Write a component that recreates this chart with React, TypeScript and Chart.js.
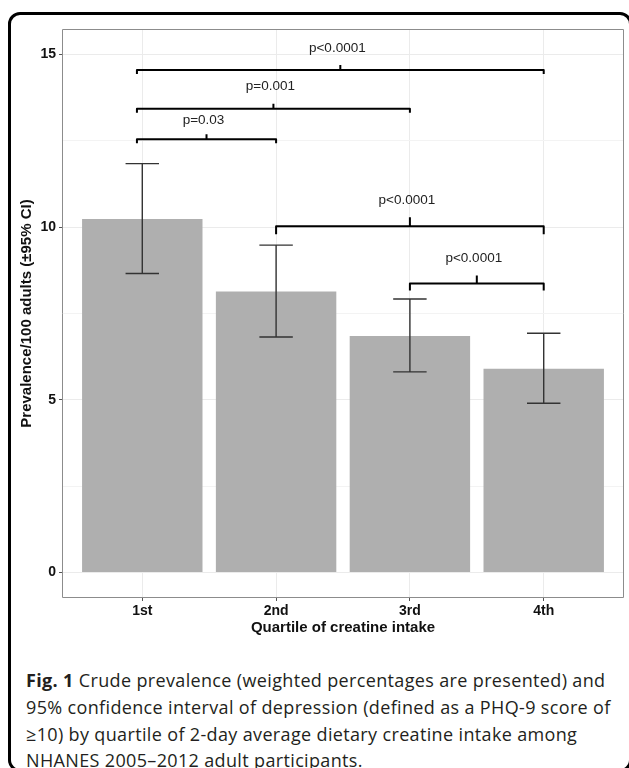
import React, { useEffect, useRef } from 'react';
import { Chart, registerables } from 'chart.js';

Chart.register(...registerables);

// ---- data ----
const categories = ['1st', '2nd', '3rd', '4th'];
const prevalence = [10.24, 8.14, 6.85, 5.9];
const ciLower = [8.66, 6.82, 5.81, 4.9];
const ciUpper = [11.84, 9.48, 7.92, 6.93];
const yTickValues = [0, 5, 10, 15];

const bracketLabels = ['p<0.0001', 'p=0.001', 'p=0.03', 'p<0.0001', 'p<0.0001'];
const bracketFrom = [-0.04, -0.04, -0.04, 1, 2];
const bracketTo = [3, 2, 1, 3, 3];
const bracketLevel = [14.55, 13.43, 12.55, 10.03, 8.37];
const labelLevel = [15.17, 14.09, 13.1, 10.79, 9.11];

const yTitle = 'Prevalence/100 adults (±95% CI)';
const xTitle = 'Quartile of creatine intake';

const captionLines = [
  'Crude prevalence (weighted percentages are presented) and',
  '95% confidence interval of depression (defined as a PHQ-9 score of',
  '≥10) by quartile of 2-day average dietary creatine intake among',
  'NHANES 2005–2012 adult participants.',
];

// ---- styles ----
const tipDown = [4, 4, 4, 8, 7];
const tickUp = [5, 5, 5, 9, 8];
const FONT = '"Liberation Sans", Arial, Helvetica, sans-serif';

const overlayPlugin = {
  id: 'overlay',
  afterDatasetsDraw(chart: any) {
    const { ctx, scales } = chart;
    const x = scales.x;
    const y = scales.y;
    ctx.save();
    // error bars
    ctx.strokeStyle = '#333333';
    ctx.lineWidth = 1.4;
    for (let i = 0; i < prevalence.length; i++) {
      const px = x.getPixelForValue(i);
      const half = x.getPixelForValue(i + 0.125) - px;
      const yt = y.getPixelForValue(ciUpper[i]);
      const yb = y.getPixelForValue(ciLower[i]);
      ctx.beginPath();
      ctx.moveTo(px, yt);
      ctx.lineTo(px, yb);
      ctx.moveTo(px - half, yt);
      ctx.lineTo(px + half, yt);
      ctx.moveTo(px - half, yb);
      ctx.lineTo(px + half, yb);
      ctx.stroke();
    }
    // brackets
    ctx.strokeStyle = '#000000';
    ctx.lineWidth = 2;
    ctx.lineJoin = 'round';
    for (let b = 0; b < bracketLabels.length; b++) {
      const x1 = x.getPixelForValue(bracketFrom[b]);
      const x2 = x.getPixelForValue(bracketTo[b]);
      const yb = y.getPixelForValue(bracketLevel[b]);
      const mid = (x1 + x2) / 2;
      ctx.beginPath();
      ctx.moveTo(x1, yb + tipDown[b]);
      ctx.lineTo(x1, yb);
      ctx.lineTo(x2, yb);
      ctx.lineTo(x2, yb + tipDown[b]);
      ctx.moveTo(mid, yb);
      ctx.lineTo(mid, yb - tickUp[b]);
      ctx.stroke();
      ctx.font = '13.5px ' + FONT;
      ctx.fillStyle = '#222222';
      ctx.textAlign = 'center';
      ctx.textBaseline = 'middle';
      ctx.fillText(bracketLabels[b], mid - 3, y.getPixelForValue(labelLevel[b]));
    }
    // panel border
    const { left, top, right, bottom } = chart.chartArea;
    ctx.strokeStyle = '#8c8c8c';
    ctx.lineWidth = 1;
    ctx.strokeRect(left + 0.5, top + 0.5, right - left - 1, bottom - top - 1);
    ctx.restore();
  },
};

function PrevalenceChart() {
  const ref = useRef<HTMLCanvasElement>(null);
  useEffect(() => {
    if (!ref.current) return;
    const chart = new Chart(ref.current, {
      type: 'bar',
      data: {
        datasets: [
          {
            data: prevalence.map((v, i) => ({ x: i, y: v })),
            backgroundColor: '#afafaf',
            borderWidth: 0,
            barPercentage: 0.9,
            categoryPercentage: 1,
          },
        ],
      },
      options: {
        responsive: false,
        animation: false,
        devicePixelRatio: 1,
        layout: { padding: { left: 18, top: 29, right: 5, bottom: 8 } },
        plugins: { legend: { display: false }, tooltip: { enabled: false } },
        scales: {
          x: {
            type: 'linear',
            min: -0.6,
            max: 3.6,
            offset: false,
            afterFit: (s: any) => {
              s.height = 39;
            },
            afterBuildTicks: (s: any) => {
              s.ticks = categories.map((_, i) => ({ value: i }));
            },
            ticks: {
              callback: (v: any) => categories[Math.round(Number(v))] ?? '',
              font: { family: FONT, size: 14, weight: 'bold' },
              color: '#111111',
              padding: 2,
              maxRotation: 0,
              autoSkip: false,
            },
            grid: {
              color: '#ebebeb',
              lineWidth: 1,
              offset: false,
              drawTicks: true,
              tickLength: 3,
              tickColor: '#555555',
            },
            border: { display: false },
            title: {
              display: true,
              text: xTitle,
              font: { family: FONT, size: 15, weight: 'bold' },
              color: '#111111',
              padding: 0,
            },
          },
          y: {
            type: 'linear',
            min: -0.74,
            max: 15.74,
            afterFit: (s: any) => {
              s.width = 44;
            },
            afterBuildTicks: (s: any) => {
              const arr: any[] = [];
              yTickValues.forEach((v, i) => {
                arr.push({ value: v });
                if (i < yTickValues.length - 1) arr.push({ value: (v + yTickValues[i + 1]) / 2 });
              });
              s.ticks = arr;
            },
            ticks: {
              callback: (v: any) => (yTickValues.includes(Number(v)) ? String(v) : ''),
              font: { family: FONT, size: 14, weight: 'bold' },
              color: '#111111',
              padding: 3,
              autoSkip: false,
            },
            grid: {
              color: (c: any) => (yTickValues.includes(c.tick?.value) ? '#ebebeb' : '#f3f3f3'),
              lineWidth: 1,
              drawTicks: true,
              tickLength: 3,
              tickColor: (c: any) => (yTickValues.includes(c.tick?.value) ? '#555555' : 'rgba(0,0,0,0)'),
            },
            border: { display: false },
            title: {
              display: true,
              text: yTitle,
              font: { family: FONT, size: 15, weight: 'bold' },
              color: '#111111',
              padding: 0,
            },
          },
        },
      },
      plugins: [overlayPlugin],
    } as any);
    return () => chart.destroy();
  }, []);
  return <canvas ref={ref} width={629} height={645} style={{ position: 'absolute', left: 0, top: 0 }} />;
}

export default function App() {
  const capStyle: React.CSSProperties = {
    position: 'absolute',
    left: 26,
    whiteSpace: 'nowrap',
    fontFamily: '"Open Sans", "Noto Sans", sans-serif',
    fontSize: 18,
    letterSpacing: '0.35px',
    lineHeight: '27px',
    color: '#231f20',
  };
  const tops = [666.5, 694, 721, 746.5];
  return (
    <div style={{ position: 'absolute', left: 0, top: 0, width: 629, height: 768, overflow: 'hidden', background: '#fff' }}>
      <div
        style={{
          position: 'absolute',
          left: 8,
          top: 12,
          width: 624,
          height: 760,
          border: '3px solid #000',
          borderRadius: 12,
          boxSizing: 'border-box',
        }}
      />
      <PrevalenceChart />
      {captionLines.map((line, i) => (
        <div key={i} style={{ ...capStyle, top: tops[i] }}>
          {i === 0 ? <b>Fig. 1 </b> : null}
          {line}
        </div>
      ))}
    </div>
  );
}
